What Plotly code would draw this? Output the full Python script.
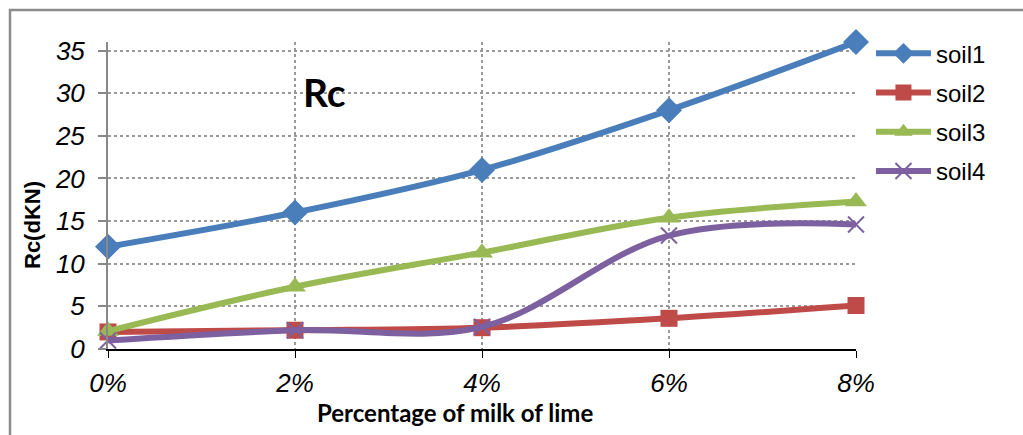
import plotly.graph_objects as go

# Lime content (%) and compressive strength Rc (dKN) per soil
lime_pct = [0, 2, 4, 6, 8]
lime_labels = ["0%", "2%", "4%", "6%", "8%"]
soil1 = [12, 16, 21, 28, 36]
soil2 = [2.0, 2.2, 2.5, 3.6, 5.1]
soil3 = [2.1, 7.3, 11.3, 15.4, 17.3]
soil4 = [1.0, 2.2, 2.6, 13.3, 14.6]
y_ticks = [0, 5, 10, 15, 20, 25, 30, 35]

series = [
    ("soil1", soil1, "#4A7EBB", "diamond", 20, None),
    ("soil2", soil2, "#BE4B48", "square", 17, None),
    ("soil3", soil3, "#98B954", "triangle-up", 19, None),
    ("soil4", soil4, "#7D60A0", "x-thin", 16, 2),
]

fig = go.Figure()
for name, vals, color, sym, size, lw in series:
    marker = dict(symbol=sym, size=size, color=color)
    if lw:
        marker["line"] = dict(width=lw, color=color)
    fig.add_trace(go.Scatter(
        x=lime_pct, y=vals, name=name, legendgroup=name,
        mode="lines+markers",
        line=dict(color=color, width=6, shape="spline", smoothing=1),
        marker=marker, cliponaxis=False,
    ))

fig.update_layout(
    width=1023, height=435,
    margin=dict(l=108, r=167, t=42, b=86),
    paper_bgcolor="white", plot_bgcolor="white",
    showlegend=True,
    legend=dict(x=1.02, y=1.035, xanchor="left", yanchor="top",
                font=dict(family="Arial", size=24, color="black"),
                traceorder="grouped", tracegroupgap=5, itemwidth=55),
    xaxis=dict(
        range=[0, 8], tickvals=lime_pct, ticktext=lime_labels,
        tickfont=dict(family="Arial", size=26, color="black", style="italic"),
        showline=True, linecolor="black", linewidth=2,
        ticks="outside", ticklen=7, tickcolor="black", tickwidth=1,
        showgrid=True, gridcolor="#999999", griddash="dot", gridwidth=1.5,
        zeroline=False, ticklabelstandoff=3,
    ),
    yaxis=dict(
        range=[0, 36], tickvals=y_ticks,
        tickfont=dict(family="Arial", size=26, color="black", style="italic"),
        showline=True, linecolor="#888888", linewidth=2,
        ticks="outside", ticklen=8, tickcolor="#888888", tickwidth=2,
        showgrid=True, gridcolor="#999999", griddash="dot", gridwidth=1.5,
        zeroline=False, ticklabelstandoff=8,
    ),
    font=dict(family="Arial", color="black"),
)

# Axis titles
fig.add_annotation(xref="paper", yref="paper", x=(455 - 108) / 748, y=-63 / 307,
                   text="<b>Percentage of milk of lime</b>", showarrow=False,
                   xanchor="center", yanchor="middle",
                   font=dict(family="Lato", size=24, color="black"))
fig.add_annotation(xref="paper", yref="paper", x=-76 / 748, y=124 / 307,
                   text="<b>Rc(dKN)</b>", showarrow=False, textangle=-90,
                   xanchor="center", yanchor="middle",
                   font=dict(family="Arial", size=22, color="black"))

# Chart label inside the plot
fig.add_annotation(x=2.32, y=30.1, text="<b>Rc</b>", showarrow=False,
                   font=dict(family="Lato", size=39, color="black"))

# Outer chart frame
fig.add_shape(type="rect", xref="paper", yref="paper",
              x0=-98 / 748, x1=1.3, y0=-0.5, y1=1 + 32 / 307,
              line=dict(color="#8c8c8c", width=2.5), layer="below")

fig.write_html("out.html")
